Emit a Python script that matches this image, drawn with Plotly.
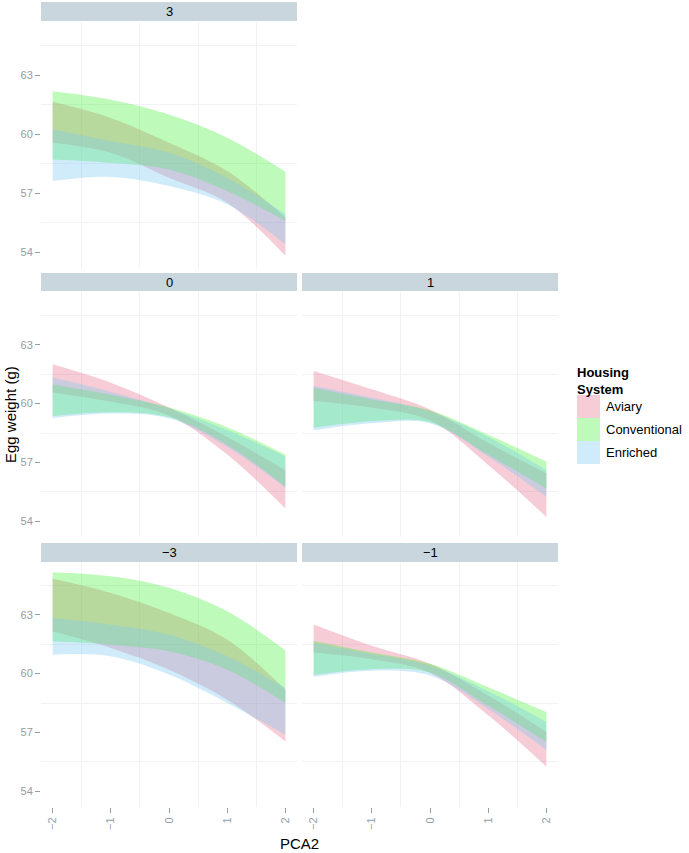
import plotly.graph_objects as go

# ---------------- data ----------------
PCA2 = [-2, -1, 0, 1, 2]
FACETS = ["3", "0", "1", "−3", "−1"]
HOUSING = ["Aviary", "Conventional", "Enriched"]
Y_TICKS = [54, 57, 60, 63]
X_TICKS = [-2, -1, 0, 1, 2]
X_TICK_TEXT = ["−2", "−1", "0", "1", "2"]

# facet "3"
aviary_hi_3 = [61.64, 60.82, 59.56, 58.12, 55.75]
aviary_lo_3 = [59.56, 59.05, 57.78, 56.51, 53.81]
conv_hi_3 = [62.18, 61.75, 60.99, 59.81, 58.09]
conv_lo_3 = [58.71, 58.54, 58.20, 57.11, 55.58]
enr_hi_3 = [60.23, 59.64, 59.05, 57.78, 55.92]
enr_lo_3 = [57.61, 57.82, 57.36, 56.43, 54.40]

# facet "0"
aviary_hi_0 = [62.01, 61.07, 59.80, 58.30, 56.60]
aviary_lo_0 = [60.56, 60.10, 59.40, 57.40, 54.64]
conv_hi_0 = [60.99, 60.45, 59.80, 58.80, 57.39]
conv_lo_0 = [59.36, 59.56, 59.30, 57.90, 55.76]
enr_hi_0 = [61.33, 60.60, 59.75, 58.65, 57.30]
enr_lo_0 = [59.27, 59.50, 59.25, 57.80, 55.70]

# facet "1"
aviary_hi_1 = [61.67, 60.73, 59.70, 58.00, 56.44]
aviary_lo_1 = [60.13, 59.79, 59.15, 56.87, 54.21]
conv_hi_1 = [60.81, 60.21, 59.65, 58.41, 57.04]
conv_lo_1 = [58.76, 59.10, 59.05, 57.39, 55.67]
enr_hi_1 = [60.90, 60.30, 59.60, 58.30, 56.60]
enr_lo_1 = [58.64, 59.00, 59.00, 57.30, 55.24]

# facet "-3"
aviary_hi_m3 = [64.84, 64.12, 63.10, 61.74, 59.18]
aviary_lo_m3 = [62.16, 61.31, 60.20, 58.67, 56.54]
conv_hi_m3 = [65.18, 64.97, 64.38, 63.18, 61.19]
conv_lo_m3 = [61.65, 61.48, 61.14, 60.20, 58.50]
enr_hi_m3 = [62.84, 62.50, 61.99, 60.89, 59.27]
enr_lo_m3 = [60.97, 60.89, 59.95, 58.50, 56.88]

# facet "-1"
aviary_hi_m1 = [62.51, 61.42, 60.50, 58.88, 57.02]
aviary_lo_m1 = [61.08, 60.74, 60.05, 57.87, 55.25]
conv_hi_m1 = [61.67, 61.08, 60.50, 59.30, 58.04]
conv_lo_m1 = [59.93, 60.23, 60.05, 58.37, 56.51]
enr_hi_m1 = [61.58, 61.00, 60.40, 59.10, 57.53]
enr_lo_m1 = [59.84, 60.15, 59.90, 58.20, 56.09]

BANDS = {
    "3": [(aviary_lo_3, aviary_hi_3), (conv_lo_3, conv_hi_3), (enr_lo_3, enr_hi_3)],
    "0": [(aviary_lo_0, aviary_hi_0), (conv_lo_0, conv_hi_0), (enr_lo_0, enr_hi_0)],
    "1": [(aviary_lo_1, aviary_hi_1), (conv_lo_1, conv_hi_1), (enr_lo_1, enr_hi_1)],
    "−3": [(aviary_lo_m3, aviary_hi_m3), (conv_lo_m3, conv_hi_m3), (enr_lo_m3, enr_hi_m3)],
    "−1": [(aviary_lo_m1, aviary_hi_m1), (conv_lo_m1, conv_hi_m1), (enr_lo_m1, enr_hi_m1)],
}

# ---------------- styling / layout ----------------
W, H = 689, 853
FILLS = ["rgba(229,109,138,0.35)", "rgba(69,241,55,0.35)", "rgba(121,201,241,0.35)"]
KEY_FILLS = ["rgb(246,204,214)", "rgb(190,250,185)", "rgb(208,236,250)"]
STRIP_FILL = "#CAD6DE"
TICK_COLOR = "#939DA8"
GRID_COLOR = "#F1F2F5"
FONT = "Liberation Sans, Arial, sans-serif"

COL_X = [(41, 297), (302, 558)]
ROW_Y = [(22, 268), (292, 537), (562, 807)]
STRIP_Y = [(2, 21), (273, 291), (543, 562)]
POS = {"3": (0, 0), "0": (1, 0), "1": (1, 1), "−3": (2, 0), "−1": (2, 1)}
X_RANGE = [-2.2, 2.2]
Y_RANGE = [53.19, 65.7]

fig = go.Figure()
shapes = []
annotations = []
layout_axes = {}

for i, facet in enumerate(FACETS):
    r, c = POS[facet]
    n = "" if i == 0 else str(i + 1)
    xref, yref = "x" + n, "y" + n
    for g, (lo, hi) in enumerate(BANDS[facet]):
        fig.add_trace(go.Scatter(x=PCA2, y=lo, mode="lines", xaxis=xref, yaxis=yref,
                                 line=dict(width=0, shape="spline"), showlegend=False,
                                 hoverinfo="skip"))
        fig.add_trace(go.Scatter(x=PCA2, y=hi, mode="lines", xaxis=xref, yaxis=yref,
                                 line=dict(width=0, shape="spline"), fill="tonexty",
                                 fillcolor=FILLS[g], showlegend=False,
                                 name=HOUSING[g], hoverinfo="skip"))
    x0, x1 = COL_X[c]
    y0, y1 = ROW_Y[r]
    bottom = (r == 2)
    left = (c == 0)
    layout_axes["xaxis" + n] = dict(
        domain=[x0 / W, x1 / W], range=X_RANGE, anchor=yref,
        showgrid=False, zeroline=False, showline=False,
        tickvals=X_TICKS, ticktext=X_TICK_TEXT,
        showticklabels=bottom, ticks="outside" if bottom else "",
        ticklen=5, tickwidth=1, tickcolor=TICK_COLOR, tickangle=-90,
        tickfont=dict(size=11, color=TICK_COLOR, family=FONT),
        minor=dict(tickvals=[-1.5, -0.5, 0.5, 1.5], showgrid=True,
                   gridcolor=GRID_COLOR, gridwidth=1, ticks=""),
    )
    layout_axes["yaxis" + n] = dict(
        domain=[1 - y1 / H, 1 - y0 / H], range=Y_RANGE, anchor=xref,
        showgrid=False, zeroline=False, showline=False,
        tickvals=Y_TICKS, showticklabels=left, ticks="outside" if left else "",
        ticklen=5, tickwidth=1, tickcolor=TICK_COLOR,
        tickfont=dict(size=11, color=TICK_COLOR, family=FONT),
        minor=dict(tickvals=[55.5, 58.5, 61.5, 64.5], showgrid=True,
                   gridcolor=GRID_COLOR, gridwidth=1, ticks=""),
    )
    sy0, sy1 = STRIP_Y[r]
    shapes.append(dict(type="rect", xref="paper", yref="paper",
                       x0=x0 / W, x1=x1 / W, y0=1 - sy1 / H, y1=1 - sy0 / H,
                       fillcolor=STRIP_FILL, line=dict(width=0), layer="below"))
    annotations.append(dict(text=facet, xref="paper", yref="paper",
                            x=(x0 + x1) / 2 / W, y=1 - (sy0 + sy1) / 2 / H,
                            xanchor="center", yanchor="middle", showarrow=False,
                            font=dict(size=13, color="black", family=FONT)))

# axis titles
annotations.append(dict(text="PCA2", xref="paper", yref="paper",
                        x=(41 + 558) / 2 / W, y=1 - 843 / H, xanchor="center",
                        yanchor="middle", showarrow=False,
                        font=dict(size=15, color="black", family=FONT)))
annotations.append(dict(text="Egg weight (g)", xref="paper", yref="paper",
                        x=10 / W, y=1 - 415 / H, xanchor="center", yanchor="middle",
                        textangle=-90, showarrow=False,
                        font=dict(size=15, color="black", family=FONT)))

# legend (drawn manually)
annotations.append(dict(text="<b>Housing<br>System</b>", xref="paper", yref="paper",
                        x=575 / W, y=1 - 363 / H, xanchor="left", yanchor="top",
                        align="left", showarrow=False,
                        font=dict(size=13, color="black", family=FONT)))
key_top = 395
for g, name in enumerate(HOUSING):
    ky0 = key_top + g * 23
    shapes.append(dict(type="rect", xref="paper", yref="paper",
                       x0=577 / W, x1=600 / W, y0=1 - (ky0 + 23) / H, y1=1 - ky0 / H,
                       fillcolor=KEY_FILLS[g], line=dict(width=0)))
    annotations.append(dict(text=name, xref="paper", yref="paper",
                            x=604 / W, y=1 - (ky0 + 11.5) / H, xanchor="left",
                            yanchor="middle", showarrow=False,
                            font=dict(size=13, color="black", family=FONT)))

fig.update_layout(
    width=W, height=H, margin=dict(l=0, r=0, t=0, b=0),
    paper_bgcolor="white", plot_bgcolor="white",
    showlegend=False, shapes=shapes, annotations=annotations,
    font=dict(family=FONT),
    **layout_axes,
)

fig.write_html("out.html", config={"displayModeBar": False},
               post_script="document.body.style.margin='0';document.body.style.overflow='hidden';")
